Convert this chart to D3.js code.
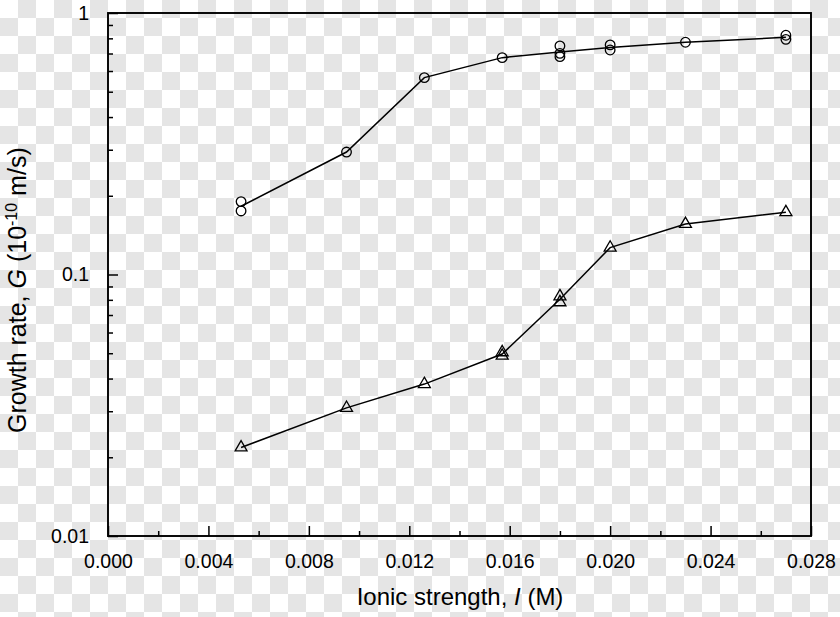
<!DOCTYPE html>
<html>
<head>
<meta charset="utf-8">
<script src="https://cdn.jsdelivr.net/npm/d3@7"></script>
<style>
	body { margin: 0; background: #fff; }
	svg { display: block; }
	svg text { font-family: "Liberation Sans", Arial, sans-serif; fill: #000; }
</style>
</head>
<body>
<svg id="chart" width="840" height="617"></svg>
<script>
// open circles
var circleX = [0.0053, 0.0053, 0.0095, 0.0126, 0.0157, 0.018, 0.018, 0.018, 0.020, 0.020, 0.023, 0.027, 0.027];
var circleY = [0.190, 0.175, 0.294, 0.566, 0.675, 0.748, 0.701, 0.681, 0.755, 0.722, 0.773, 0.822, 0.793];

// open triangles
var triX = [0.0053, 0.0095, 0.0126, 0.0157, 0.0157, 0.018, 0.018, 0.020, 0.023, 0.027];
var triY = [0.0218, 0.0309, 0.0381, 0.0504, 0.0489, 0.0825, 0.0783, 0.1267, 0.156, 0.173];

var xTicks = [0, 0.004, 0.008, 0.012, 0.016, 0.020, 0.024, 0.028];
var xMinor = [0.002, 0.006, 0.010, 0.014, 0.018, 0.022, 0.026];
var yTicks = [0.01, 0.1, 1];
var yTickLabels = ["0.01", "0.1", "1"];

var svg = d3.select('#chart');

// transparency checkerboard behind the figure
var cell = 18;
var bg = svg.append('g');
bg.append('rect').attr("width", 840).attr("height", 617).style("fill", "#fff");
for(var r = 0; r * cell < 617; r++){
	for(var c = 0; c * cell < 840; c++){
		if((r + c) % 2 === 1){
			bg.append('rect')
				.attr("x", c * cell)
				.attr("y", r * cell)
				.attr("width", cell)
				.attr("height", cell)
				.style("fill", "#e5e5e5");
		}
	}
}

var pLeft = 108, pRight = 811, pTop = 13, pBottom = 536;

var x = d3.scaleLinear().domain([0, 0.028]).range([pLeft, pRight]);
var y = d3.scaleLog().domain([0.01, 1]).range([pBottom, pTop]);

// minor y ticks, 2..9 in each decade
var yMinor = [];
for(var d = 0.01; d < 0.5; d *= 10){
	for(var m = 2; m < 10; m++){
		yMinor.push(+(d * m).toPrecision(3));
	}
}

var fontSize = "19.5px";

// x axis
var gx = svg.append('g').attr("transform", "translate(0," + pBottom + ")");
gx.call(d3.axisBottom(x).tickValues(xTicks).tickSize(-10).tickPadding(18).tickFormat(d3.format(".3f")));
gx.append('g').call(d3.axisBottom(x).tickValues(xMinor).tickSize(-5).tickFormat(""));
gx.selectAll('.domain').remove();

// y axis
var gy = svg.append('g').attr("transform", "translate(" + pLeft + ",0)");
gy.call(d3.axisLeft(y).tickValues(yTicks).tickSize(-10).tickPadding(19)
	.tickFormat(function(d, i){ return yTickLabels[i]; }));
gy.append('g').call(d3.axisLeft(y).tickValues(yMinor).tickSize(-5).tickFormat(""));
gy.selectAll('.domain').remove();

svg.selectAll('.tick line').style("stroke", "#000").style("stroke-width", 1.5);
svg.selectAll('.tick text').style("font-size", fontSize).style("font-family", null);

// frame
svg.append('rect')
	.attr("x", pLeft)
	.attr("y", pTop)
	.attr("width", pRight - pLeft)
	.attr("height", pBottom - pTop)
	.style("fill", "none")
	.style("stroke", "#000")
	.style("stroke-width", 1.9);

// line through the mean of repeated points
var meanLine = function(xs, ys){
	var groups = d3.groups(d3.range(xs.length), function(i){ return xs[i]; });
	return groups.map(function(g){
		return [g[0], Math.exp(d3.mean(g[1], function(i){ return Math.log(ys[i]); }))];
	});
};

var line = d3.line()
	.x(function(d){ return x(d[0]); })
	.y(function(d){ return y(d[1]); });

svg.append('path')
	.datum(meanLine(circleX, circleY))
	.attr("d", line)
	.style("fill", "none")
	.style("stroke", "#000")
	.style("stroke-width", 1.5);

svg.append('path')
	.datum(meanLine(triX, triY))
	.attr("d", line)
	.style("fill", "none")
	.style("stroke", "#000")
	.style("stroke-width", 1.5);

for(var k = 0; k < circleX.length; k++){
	svg.append('circle')
		.attr("cx", x(circleX[k]))
		.attr("cy", y(circleY[k]))
		.attr("r", 4.8)
		.style("fill", "none")
		.style("stroke", "#000")
		.style("stroke-width", 1.3);
}

var tri = d3.symbol().type(d3.symbolTriangle).size(62);
for(var l = 0; l < triX.length; l++){
	svg.append('path')
		.attr("d", tri)
		.attr("transform", "translate(" + x(triX[l]) + "," + y(triY[l]) + ")")
		.style("fill", "none")
		.style("stroke", "#000")
		.style("stroke-width", 1.3);
}

// axis titles
var xt = svg.append('text')
	.attr("x", 460)
	.attr("y", 605)
	.attr("text-anchor", "middle")
	.style("font-size", "24px");
xt.append('tspan').text("Ionic strength, ");
xt.append('tspan').style("font-style", "italic").text("I");
xt.append('tspan').text(" (M)");

var yt = svg.append('text')
	.attr("transform", "translate(26,433) rotate(-90)")
	.attr("text-anchor", "start")
	.style("font-size", "25px");
yt.append('tspan').text("Growth rate, ");
yt.append('tspan').style("font-style", "italic").text("G");
yt.append('tspan').text(" (10");
yt.append('tspan').attr("dy", -9).style("font-size", "16px").text("-10");
yt.append('tspan').attr("dy", 9).text(" m/s)");
</script>
</body>
</html>
